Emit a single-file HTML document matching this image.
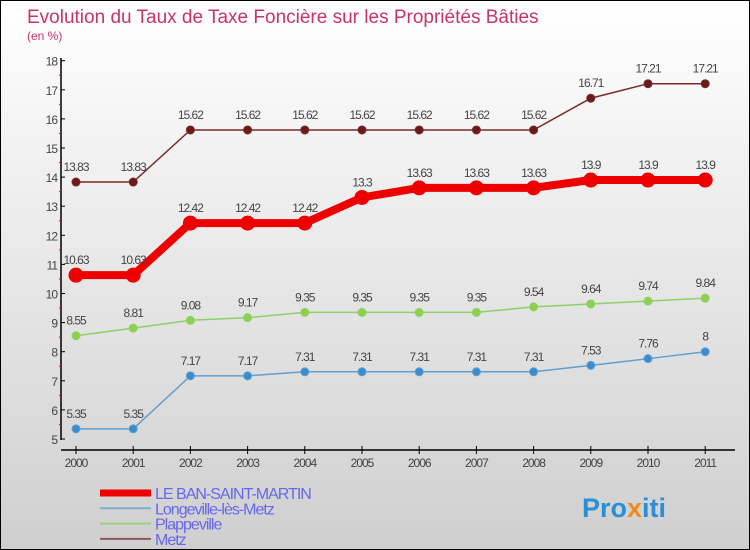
<!DOCTYPE html>
<html><head><meta charset="utf-8"><style>
body{margin:0;width:750px;height:550px;overflow:hidden;font-family:"Liberation Sans",sans-serif}
#c{position:absolute;left:0;top:0;width:748px;height:548px;border:1px solid #000;background:linear-gradient(#ffffff,#cfcfcf)}
</style></head><body>
<div id="c">
<svg id="s" width="750" height="550" style="position:absolute;left:-1px;top:-1px">
<text x="27" y="23" font-size="19" fill="#c8336b">Evolution du Taux de Taxe Foncière sur les Propriétés Bâties</text>
<text x="27" y="40" font-size="12" fill="#c8336b">(en %)</text>
<g id="axes"></g><g id="series"></g><g id="legend"></g>
<text x="582" y="517" font-size="27" font-weight="bold" fill="#2a8fd6">Pro<tspan fill="#f08a1c">x</tspan>iti</text>
</svg></div>
<script>
const years=["2000","2001","2002","2003","2004","2005","2006","2007","2008","2009","2010","2011"];
const yTicks=[5,6,7,8,9,10,11,12,13,14,15,16,17,18];
const ban=[10.63,10.63,12.42,12.42,12.42,13.3,13.63,13.63,13.63,13.9,13.9,13.9];
const longeville=[5.35,5.35,7.17,7.17,7.31,7.31,7.31,7.31,7.31,7.53,7.76,8];
const plappeville=[8.55,8.81,9.08,9.17,9.35,9.35,9.35,9.35,9.54,9.64,9.74,9.84];
const metz=[13.83,13.83,15.62,15.62,15.62,15.62,15.62,15.62,15.62,16.71,17.21,17.21];
const NS="http://www.w3.org/2000/svg";
function X(i){return 76+i*57.2;}
function Y(v){return 439-(v-5)*29.1;}
function mk(t,a,p){const e=document.createElementNS(NS,t);for(const k in a)e.setAttribute(k,a[k]);p.appendChild(e);return e;}
const ax=document.getElementById('axes');
let l=mk('line',{x1:61,y1:58,x2:61,y2:440,stroke:'#000','stroke-width':1.5},ax);


l=mk('line',{x1:61,y1:450,x2:735,y2:450,stroke:'#000','stroke-width':1.5},ax);


yTicks.forEach((v,i)=>{
 mk('line',{x1:61,y1:Y(v),x2:65,y2:Y(v),stroke:'#000'},ax);
 if(i<yTicks.length-1)mk('line',{x1:59,y1:Y(v+0.5),x2:62,y2:Y(v+0.5),stroke:'#e00'},ax);
 const t=mk('text',{x:57,y:Y(v)+5,'font-size':12,fill:'#444','text-anchor':'end','letter-spacing':'-1'},ax);t.textContent=v;
 
 
});
years.forEach((y,i)=>{
 mk('line',{x1:X(i),y1:446,x2:X(i),y2:454,stroke:'#000'},ax);
 const t=mk('text',{x:X(i),y:467,'font-size':12,fill:'#444','text-anchor':'middle','letter-spacing':'-1'},ax);t.textContent=y;
 
 
});
const S=document.getElementById('series');
function draw(d,color,w,r,name,dot){
 const g=mk('g',{},S);
 
 
 mk('polyline',{points:d.map((v,i)=>X(i)+','+Y(v)).join(' '),fill:'none',stroke:color,'stroke-width':w},g);
 d.forEach((v,i)=>{
  const c=mk('circle',{cx:X(i),cy:Y(v),r:r,fill:dot,stroke:color,'stroke-width':1},g);
  
  
  const t=mk('text',{x:X(i),y:Y(v)-11,'font-size':12,fill:'#444','text-anchor':'middle','letter-spacing':'-1'},g);t.textContent=v;
  
  
 });
}
draw(metz,'#7a2a2a',1.5,4,'metz','#6a1a1a');
draw(plappeville,'#8fd06a',1.5,4,'plappeville','#8fd04a');
draw(longeville,'#5fa0d0',1.5,4,'longeville','#3a8ccc');
draw(ban,'#ee0000',8,7,'ban-saint-martin','#ee0000');
const L=document.getElementById('legend');
[["LE BAN-SAINT-MARTIN","#ee0000",7],["Longeville-lès-Metz","#7aaed0",2],["Plappeville","#9ad080",2],["Metz","#8a5a5a",2]].forEach((e,i)=>{
 const y=493+i*15.3;
 const g=mk('g',{},L);
 
 
 mk('line',{x1:100,y1:y,x2:151,y2:y,stroke:e[1],'stroke-width':e[2]},g);
 const t=mk('text',{x:155,y:y+6,'font-size':16,fill:'#6666ee','letter-spacing':'-1'},g);t.textContent=e[0];
});
</script>
</body></html>
